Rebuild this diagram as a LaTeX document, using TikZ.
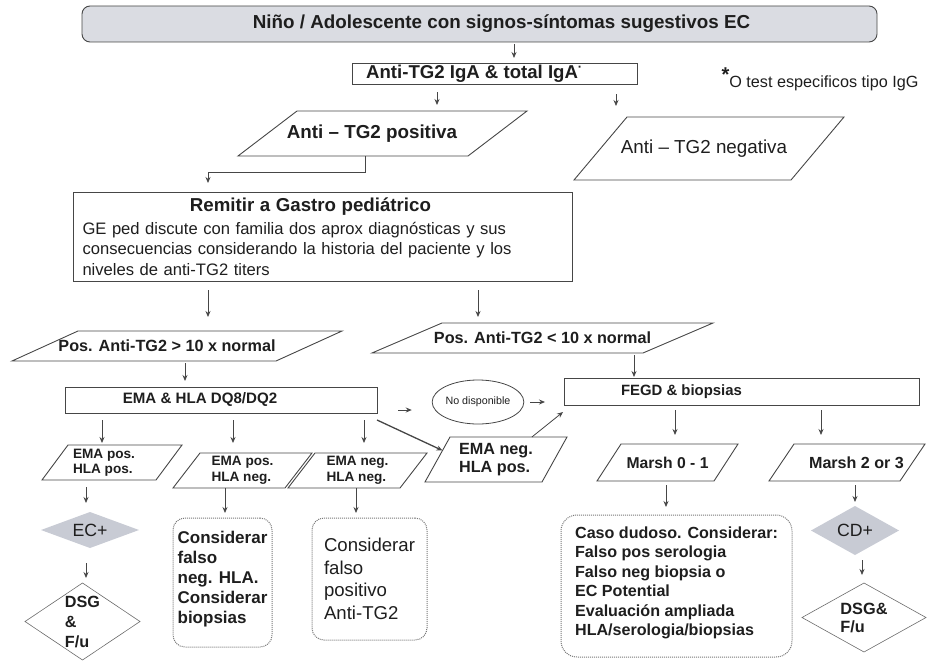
\documentclass[tikz,border=0pt]{standalone}
\usepackage{fontspec}
\setmainfont{Liberation Sans}
\usepackage{tikz}
\usetikzlibrary{
    positioning,
    arrows.meta,
    calc,
    shapes.geometric
}

\definecolor{linea}{RGB}{70,70,70}
\definecolor{texto}{RGB}{30,30,30}
\definecolor{grisfondo}{RGB}{218,220,226}
\definecolor{grisrombo}{RGB}{200,203,212}
\definecolor{punteado}{RGB}{120,120,120}

\newcommand{\fuente}[2]{\fontsize{#1}{#2}\selectfont}
% contorno inclinado sobre el rectangulo de un nodo
\newcommand{\paralelo}[2]{%
    \draw[borde] ([xshift=#2]#1.north west) -- (#1.north east)
        -- ([xshift=-#2]#1.south east) -- (#1.south west) -- cycle;}

\tikzset{
    borde/.style={draw=linea, line width=0.9pt, line join=miter},
    caja/.style={draw=linea, line width=0.9pt, rectangle, inner sep=0pt, outer sep=0pt},
    parale/.style={rectangle, inner sep=0pt, outer sep=0pt, align=left},
    rombo/.style={diamond, inner sep=0pt, outer sep=0pt, align=left},
    nota/.style={draw=punteado, densely dotted, line width=1pt, rounded corners=12pt,
        inner sep=0pt, outer sep=0pt, align=left},
    flecha/.style={draw=linea, line width=0.8pt, -{Stealth[length=6pt, width=5pt]}}
}

\begin{document}
\begin{tikzpicture}[x=1pt, y=-1pt, every node/.append style={text=texto}]
    \useasboundingbox (0,0) rectangle (928,661);

    % cabecera
    \node[caja, rounded corners=8pt, fill=grisfondo, minimum width=795pt, minimum height=36pt,
        font=\fuente{18.8}{22}\bfseries] (inicio) at (479.5,24)
        {\hspace*{44pt}Niño / Adolescente con signos-síntomas sugestivos EC};
    \node[caja, minimum width=285pt, minimum height=21pt, font=\fuente{18.6}{22}\bfseries] (iga) at (494.5,73.5)
        {Anti-TG2 IgA \& total IgA\textsuperscript{·}\hspace*{40pt}};
    \node[anchor=west, font=\fuente{16.2}{18}] (asterisco) at (718,79)
        {\raisebox{6pt}{\fuente{20}{20}\bfseries *}O test especificos tipo IgG};

    % resultado serologia
    \node[parale, minimum width=289pt, minimum height=45pt, font=\fuente{18.8}{22}\bfseries] (pos) at (382.5,133.5)
        {Anti – TG2 positiva\hspace*{21pt}};
    \node[parale, minimum width=270pt, minimum height=63pt, font=\fuente{18.8}{22}] (neg) at (709,148.5)
        {Anti – TG2 negativa\hspace*{10pt}};
    \paralelo{pos}{59pt}
    \paralelo{neg}{53pt}

    \node[caja, minimum width=499pt, minimum height=89pt, text width=480pt, align=left,
        font=\fuente{16.6}{20.5}] (remitir) at (322.5,236.5)
        {\hfil{\fuente{18.7}{22}\bfseries Remitir a Gastro pediátrico}\hspace*{24pt}\hfil\\[2pt]
        GE ped discute con familia dos aprox diagnósticas y sus\\
        consecuencias considerando la historia del paciente y los\\
        niveles de anti-TG2 titers};

    % titulos
    \node[parale, minimum width=330pt, minimum height=30pt, font=\fuente{16.2}{19}\bfseries] (pos10) at (177,346)
        {Pos. Anti-TG2 > 10 x normal\hspace*{20pt}};
    \node[parale, minimum width=341pt, minimum height=30pt, font=\fuente{16.2}{19}\bfseries] (neg10) at (542.5,338)
        {Pos. Anti-TG2 < 10 x normal};
    \paralelo{pos10}{66pt}
    \paralelo{neg10}{70pt}

    \node[caja, minimum width=312pt, minimum height=26pt, font=\fuente{15.1}{18}\bfseries] (ema) at (221,400)
        {EMA \& HLA DQ8/DQ2\hspace*{42pt}};
    \node[draw=linea, line width=0.8pt, ellipse, minimum width=90pt, minimum height=44pt, inner sep=0pt,
        font=\fuente{10.7}{13}] (nodisp) at (478,402) {No disponible};
    \node[caja, minimum width=355pt, minimum height=27pt, font=\fuente{14.9}{18}\bfseries] (fegd) at (741.5,391.5)
        {FEGD \& biopsias\hspace*{120pt}};

    % EMA / HLA
    \node[parale, minimum width=140pt, minimum height=35pt, font=\fuente{13.6}{15}\bfseries] (pp) at (112,462.5)
        {EMA pos.\hspace*{16pt}\\HLA pos.\hspace*{16pt}};
    \node[parale, minimum width=139pt, minimum height=35pt, font=\fuente{13.6}{16}\bfseries] (pn) at (242.5,470.5)
        {EMA pos.\\HLA neg.};
    \node[parale, minimum width=139pt, minimum height=35pt, font=\fuente{13.6}{16}\bfseries] (nn) at (357.5,470.5)
        {EMA neg.\\HLA neg.};
    \node[parale, minimum width=142pt, minimum height=45pt, font=\fuente{16.2}{18}\bfseries] (np) at (496,459.5)
        {EMA neg.\\HLA pos.};
    \paralelo{pp}{26pt}
    \paralelo{pn}{27pt}
    \paralelo{nn}{27pt}
    \paralelo{np}{25pt}

    % Marsh
    \node[parale, minimum width=141pt, minimum height=37pt, font=\fuente{15.7}{18}\bfseries] (m01) at (667.5,462.5)
        {Marsh 0 - 1};
    \node[parale, minimum width=156pt, minimum height=37pt, font=\fuente{16.1}{18}\bfseries] (m23) at (847,462.5)
        {\hspace*{19pt}Marsh 2 or 3};
    \paralelo{m01}{24pt}
    \paralelo{m23}{25pt}

    % conclusiones
    \node[rombo, fill=grisrombo, aspect=2.7, minimum width=98pt, minimum height=36pt,
        font=\fuente{17.7}{20}] (ecp) at (90,530) {EC+};
    \node[rombo, draw=linea!80, line width=0.6pt, aspect=1.5, inner sep=-4pt, minimum width=115pt,
        minimum height=77pt, font=\fuente{16.2}{20}\bfseries] (dsg1) at (82.5,621.5) {DSG\\\&\\F/u};
    \node[nota, minimum width=99pt, minimum height=129pt, font=\fuente{17}{20}\bfseries] (cfn) at (222.5,582.5)
        {Considerar\\falso\\neg. HLA.\\Considerar\\biopsias\\[-10pt]};
    \node[nota, minimum width=115pt, minimum height=122pt, font=\fuente{18.6}{22.5}] (cfp) at (369.5,579)
        {Considerar\\falso\\positivo\\Anti-TG2};
    \node[nota, rounded corners=16pt, minimum width=231pt, minimum height=142pt,
        font=\fuente{16.1}{19.5}\bfseries] (caso) at (676.5,586)
        {Caso dudoso. Considerar:\\Falso pos serologia\\Falso neg biopsia o\\EC Potential\\
        Evaluación ampliada\\HLA/serologia/biopsias\\[-10pt]};
    \node[rombo, fill=grisrombo, aspect=1.8, minimum width=88pt, minimum height=49pt,
        font=\fuente{17.7}{20}] (cdp) at (855,530.5) {CD+};
    \node[rombo, draw=linea!80, line width=0.6pt, aspect=1.8, minimum width=124pt,
        minimum height=69pt, font=\fuente{16.3}{18}\bfseries] (dsg2) at (864,617.5) {DSG\&\\F/u};

    % flechas
    \draw[flecha, shorten <=2pt, shorten >=5pt] (514,0 |- inicio.south) -- (514,0 |- iga.north);
    \draw[flecha, shorten <=8pt, shorten >=6pt] (437,0 |- iga.south) -- (437,0 |- pos.north);
    \draw[flecha, shorten <=10pt, shorten >=11pt] (616,0 |- iga.south) -- (616,0 |- neg.north);
    \draw[flecha, shorten >=9pt] (365,0 |- pos.south) |- (208,172) -- (208,0 |- remitir.north);
    \draw[flecha, shorten <=9pt, shorten >=14pt] (208,0 |- remitir.south) -- (208,0 |- pos10.north);
    \draw[flecha, shorten <=9pt, shorten >=6pt] (478,0 |- remitir.south) -- (478,0 |- neg10.north);
    \draw[flecha, shorten <=2pt, shorten >=6pt] (185,0 |- pos10.south) -- (185,0 |- ema.north);
    \draw[flecha, shorten <=2pt, shorten >=1pt] (634,0 |- neg10.south) -- (634,0 |- fegd.north);
    \draw[flecha, shorten <=21pt, shorten >=20pt] ([yshift=-10pt]ema.east) -- ([yshift=-8pt]nodisp.west);
    \draw[flecha, shorten <=6pt, shorten >=19pt] (nodisp.east) -- (nodisp.east -| fegd.west);
    \draw[flecha, line width=1.3pt] ([yshift=-7pt]ema.south east)
        -- ($([xshift=25pt]np.north west)!0.3!(np.south west)$);
    \draw[flecha] ($([xshift=25pt]np.north west)!0.7!(np.north east)$)
        -- ([xshift=-1pt, yshift=-7pt]fegd.south west);
    \draw[flecha, shorten <=7pt, shorten >=2pt] (102,0 |- ema.south) -- (102,0 |- pp.north);
    \draw[flecha, shorten <=7pt, shorten >=10pt] (233,0 |- ema.south) -- (233,0 |- pn.north);
    \draw[flecha, shorten <=7pt, shorten >=10pt] (364,0 |- ema.south) -- (364,0 |- nn.north);
    \draw[flecha, shorten <=7pt, shorten >=9pt] (86,0 |- pp.south) -- (86,0 |- ecp.north);
    \draw[flecha, shorten >=5pt] (225,0 |- pn.south) -- (225,0 |- cfn.north);
    \draw[flecha, shorten >=5pt] (356,0 |- nn.south) -- (356,0 |- cfp.north);
    \draw[flecha, shorten <=15pt, shorten >=5pt] (86,0 |- ecp.south) -- (86,0 |- dsg1.north);
    \draw[flecha, shorten <=5pt, shorten >=9pt] (675,0 |- fegd.south) -- (675,0 |- m01.north);
    \draw[flecha, shorten <=5pt, shorten >=9pt] (821,0 |- fegd.south) -- (821,0 |- m23.north);
    \draw[flecha, shorten <=4pt, shorten >=8pt] (666,0 |- m01.south) -- (666,0 |- caso.north);
    \draw[flecha, shorten <=4pt, shorten >=4pt] (855,0 |- m23.south) -- (855,0 |- cdp.north);
    \draw[flecha, shorten <=5pt, shorten >=8pt] (862,0 |- cdp.south) -- (862,0 |- dsg2.north);
\end{tikzpicture}
\end{document}
